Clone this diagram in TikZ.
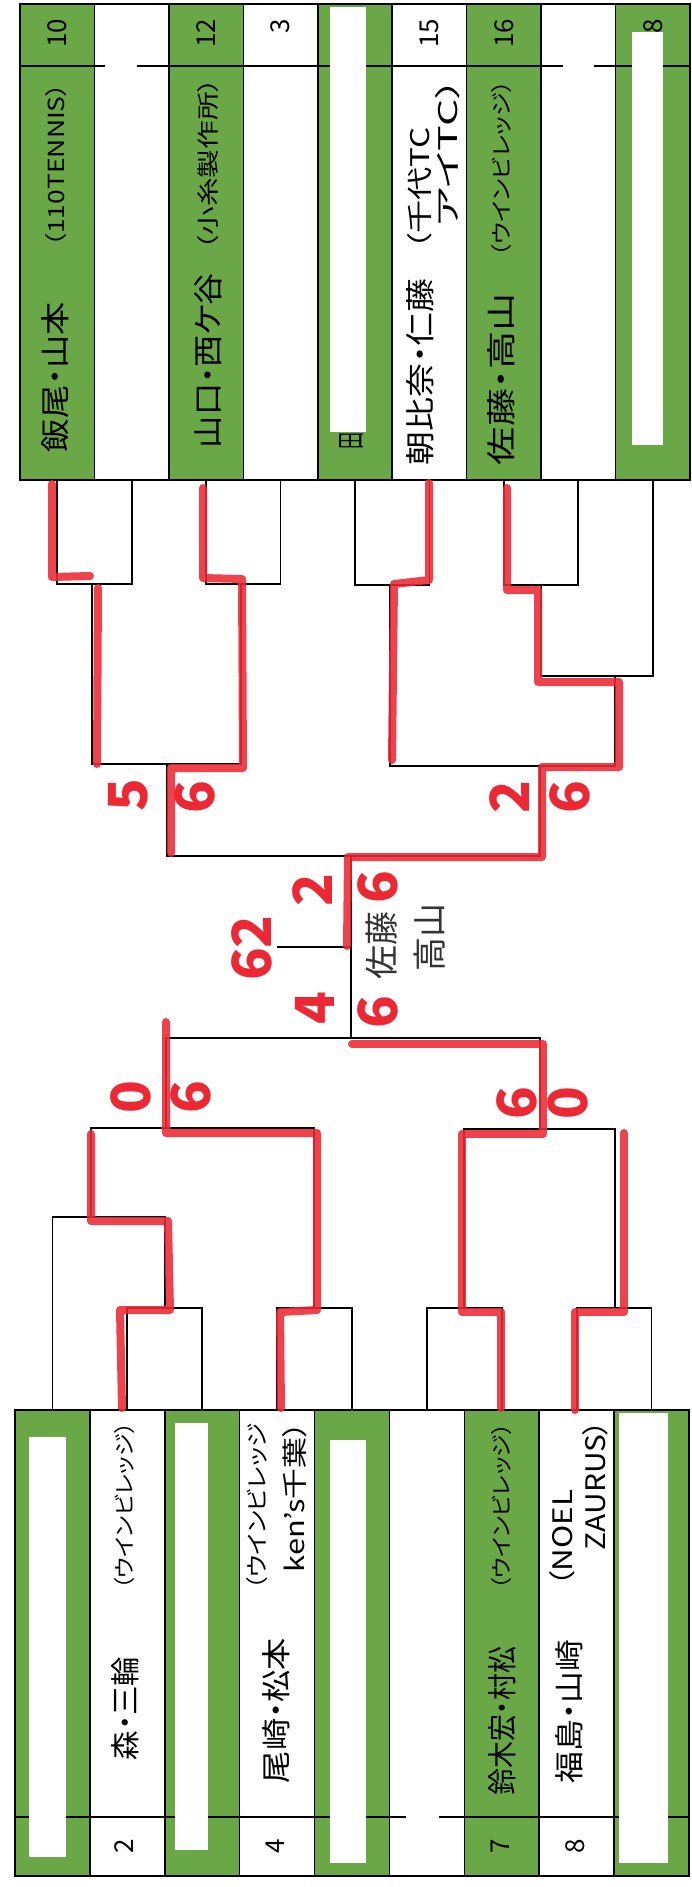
\documentclass[tikz,border=0pt]{standalone}
\usepackage{fontspec}
\usepackage{graphicx}
\setmainfont{Noto Sans CJK JP}[RawFeature=+palt]
\definecolor{cellgreen}{RGB}{106,168,71}
\definecolor{marker}{RGB}{236,40,52}
\newcommand{\fitx}[3]{\resizebox{#1pt}{#2pt}{#3}}
\tikzset{
  cellbox/.style={draw=none, inner sep=0pt, outer sep=0pt, minimum width=74.44pt},
  bcellbox/.style={draw=none, inner sep=0pt, outer sep=0pt, minimum width=74.89pt},
  gridline/.style={draw=black, line width=1.6pt},
  framebox/.style={draw=black, line width=2pt},
  bl/.style={draw=black, line width=1.8pt},
  rd/.style={draw=marker, line width=8pt, line cap=round, line join=round, opacity=.88},
  txt/.style={rotate=90, inner sep=0pt, outer sep=0pt},
  num/.style={rotate=90, inner sep=0pt, font=\fontsize{26}{26}\selectfont},
  score/.style={rotate=90, inner sep=0pt, text=marker, font=\fontsize{54}{54}\selectfont\bfseries},
  handw/.style={rotate=90, inner sep=0pt, text=black!80, font=\fontsize{34}{34}\selectfont},
  whiteout/.style={fill=white, draw=none},
}
\begin{document}
\begin{tikzpicture}[x=1pt,y=-1pt]
\useasboundingbox (0,0) rectangle (692,1887);
\fill[white] (0,0) rectangle (692,1887);

% ---------- top table ----------
\foreach \i in {1,...,9} {
  \pgfmathsetmacro\cx{20+74.444*(\i-0.5)}
  \pgfmathtruncatemacro\odd{mod(\i,2)}
  \ifnum\odd=1 \def\col{cellgreen}\else\def\col{white}\fi
  \node[cellbox, fill=\col, minimum height=476pt] (T\i) at (\cx,242) {};
  \coordinate (t\i) at (\cx,480);
}
\draw[framebox] (T1.north west) rectangle (T9.south east);
\foreach \i in {1,...,8} { \draw[gridline] (T\i.north east) -- (T\i.south east); }
\draw[gridline] (T1.west |- 0,66) -- (T9.east |- 0,66);

% ---------- bottom table ----------
\foreach \i in {1,...,9} {
  \pgfmathsetmacro\cx{15+74.889*(\i-0.5)}
  \pgfmathtruncatemacro\odd{mod(\i,2)}
  \ifnum\odd=1 \def\col{cellgreen}\else\def\col{white}\fi
  \node[bcellbox, fill=\col, minimum height=466pt] (B\i) at (\cx,1643) {};
  \coordinate (b\i) at (\cx,1410);
}
\draw[framebox] (B1.north west) rectangle (B9.south east);
\foreach \i in {1,...,8} { \draw[gridline] (B\i.north east) -- (B\i.south east); }
\draw[gridline] (B1.west |- 0,1817) -- (B9.east |- 0,1817);

% ---------- top texts ----------
\node[num] (n10) at (57,33) {10};
\node[num] (n12) at (206,33) {12};
\node[num] (n13) at (280,33) {13};
\node[num] (n15) at (429,33) {15};
\node[num] (n16) at (504,33) {16};
\node[num] (n18) at (653,33) {18};

\node[txt, anchor=west] (p10) at (55,452) {\fitx{150}{25}{飯尾・山本}};
\node[txt, anchor=west] (a10) at (56,247) {\fitx{164}{19}{（110TENNIS）}};
\node[txt, anchor=west] (p12) at (208,448) {\fitx{175}{25}{山口・西ケ谷}};
\node[txt, anchor=west] (a12) at (208,250) {\fitx{172}{19}{（小糸製作所）}};
\node[txt, anchor=west] (p14) at (352,449) {\fitx{17}{22}{田}};
\node[txt, anchor=west] (p15) at (420,465) {\fitx{187}{25}{朝比奈・仁藤}};
\node[txt, anchor=west] (a15a) at (420,250) {\fitx{123}{22}{（千代TC}};
\node[txt, anchor=east] (a15b) at (448,78) {\fitx{149}{22}{アイTC）}};
\node[txt, anchor=west] (p16) at (501,465) {\fitx{172}{25}{佐藤・高山}};
\node[txt, anchor=west] (a16) at (502,257) {\fitx{177}{18}{（ウインビレッジ）}};

% ---------- bottom texts ----------
\node[num] (n2) at (124,1846) {2};
\node[num] (n4) at (275,1846) {4};
\node[num] (n7) at (500,1846) {7};
\node[num] (n8) at (575,1846) {8};

\node[txt, anchor=west] (p2) at (125,1760) {\fitx{103}{25}{森・三輪}};
\node[txt, anchor=west] (a2) at (125,1590) {\fitx{168}{18}{（ウインビレッジ）}};
\node[txt, anchor=west] (p4) at (276,1783) {\fitx{145}{25}{尾崎・松本}};
\node[txt, anchor=west] (a4a) at (257,1590) {\fitx{167}{19}{（ウインビレッジ}};
\node[txt, anchor=east] (a4b) at (295,1422) {\fitx{150}{22}{ken's千葉）}};
\node[txt, anchor=west] (p7) at (502,1795) {\fitx{148}{25}{鈴木宏・村松}};
\node[txt, anchor=west] (a7) at (502,1590) {\fitx{167}{18}{（ウインビレッジ）}};
\node[txt, anchor=west] (p8) at (569,1783) {\fitx{143}{25}{福島・山崎}};
\node[txt, anchor=west] (a8a) at (562,1587) {\fitx{97}{23}{（NOEL}};
\node[txt, anchor=east] (a8b) at (595,1420) {\fitx{130}{23}{ZAURUS）}};

% ---------- whiteout strips ----------
\fill[whiteout] (105,8) rectangle (137,478);
\fill[whiteout] (262,34) rectangle (300,62);
\fill[whiteout] (330,7) rectangle (366,432);
\fill[whiteout] (563,50) rectangle (594,478);
\fill[whiteout] (632,32) rectangle (663,445);
\fill[whiteout] (29,1437) rectangle (66,1857);
\fill[whiteout] (175,1423) rectangle (208,1850);
\fill[whiteout] (330,1440) rectangle (366,1863);
\fill[whiteout] (406,1423) rectangle (439,1860);
\fill[whiteout] (619,1413) rectangle (668,1863);

% ---------- bracket junctions ----------
\coordinate (jA) at (92,584);
\coordinate (jB) at (241,584);
\coordinate (jC) at (390,585);
\coordinate (jD) at (541,585);
\coordinate (jE) at (615,676);
\coordinate (jF) at (167,764);
\coordinate (jG) at (540,766);
\coordinate (jH) at (351,856);
\coordinate (jS) at (277,947);
\coordinate (jK) at (351,1038);
\coordinate (jL) at (166,1128);
\coordinate (jM) at (540,1129);
\coordinate (jN) at (91,1217);
\coordinate (jO) at (165,1308);
\coordinate (jP) at (314,1308);
\coordinate (jQ) at (464,1308);
\coordinate (jR) at (615,1308);

% top half
\draw[bl] (t1) |- (jA) -| (t2);
\draw[bl] (t3) |- (jB) -| (t4);
\draw[bl] (t5) |- (jC) -| (t6);
\draw[bl] (t7) |- (jD) -| (t8);
\draw[bl] (jD) |- (jE) -| (t9);
\draw[bl] (jA) |- (jF) -| (jB);
\draw[bl] (jC) |- (jG) -| (jE);
\draw[bl] (jF) |- (jH) -| (jG);
% final
\draw[bl] (jH) -- (jK);
\draw[bl] (jS) -- (jH |- jS);
% bottom half
\draw[bl] (jL) |- (jK) -| (jM);
\draw[bl] (jN) |- (jL) -| (jP);
\draw[bl] (b1) |- (jN) -| (jO);
\draw[bl] (b2) |- (jO) -| (b3);
\draw[bl] (b4) |- (jP) -| (b5);
\draw[bl] (b6) |- (jQ) -| (b7);
\draw[bl] (b8) |- (jR) -| (b9);
\draw[bl] (jQ) |- (jM) -| (jR);

% ---------- red marker (winners) ----------
\draw[rd] (52,484) -- (52,577) -- (90,576);
\draw[rd] (98,588) -- (97,764);
\draw[rd] (203,488) -- (203,578) -- (242,579) -- (243,768) -- (171,768) -- (171,853);
\draw[rd] (429,483) -- (429,580) -- (394,584) -- (392,760);
\draw[rd] (507,488) -- (507,590) -- (538,590) -- (538,682) -- (619,682) -- (619,767) -- (542,767) -- (542,857) -- (348,857) -- (347,946);
\draw[rd] (352,1044) -- (543,1044) -- (543,1134) -- (462,1134) -- (462,1312) -- (501,1312) -- (501,1408);
\draw[rd] (575,1410) -- (575,1312) -- (624,1312) -- (624,1133);
\draw[rd] (91,1134) -- (91,1221) -- (168,1221) -- (170,1310) -- (120,1310) -- (122,1408);
\draw[rd] (166,1022) -- (166,1133) -- (317,1133) -- (317,1310) -- (280,1312) -- (281,1408);

% ---------- handwritten scores ----------
\node[score] (s1) at (128,795) {5};
\node[score] (s2) at (195,797) {6};
\node[score] (s3) at (510,797) {2};
\node[score] (s4) at (570,797) {6};
\node[score] (s5) at (313,890) {2};
\node[score] (s6) at (378,887) {6};
\node[score] (s7) at (252,948) {62};
\node[score] (s8) at (315,1008) {4};
\node[score] (s9) at (378,1012) {6};
\node[score] (s10) at (131,1097) {0};
\node[score] (s11) at (191,1097) {6};
\node[score] (s12) at (517,1103) {6};
\node[score] (s13) at (568,1103) {0};
\node[handw] (w1) at (382,945) {佐藤};
\node[handw] (w2) at (430,937) {高山};
\end{tikzpicture}
\end{document}
